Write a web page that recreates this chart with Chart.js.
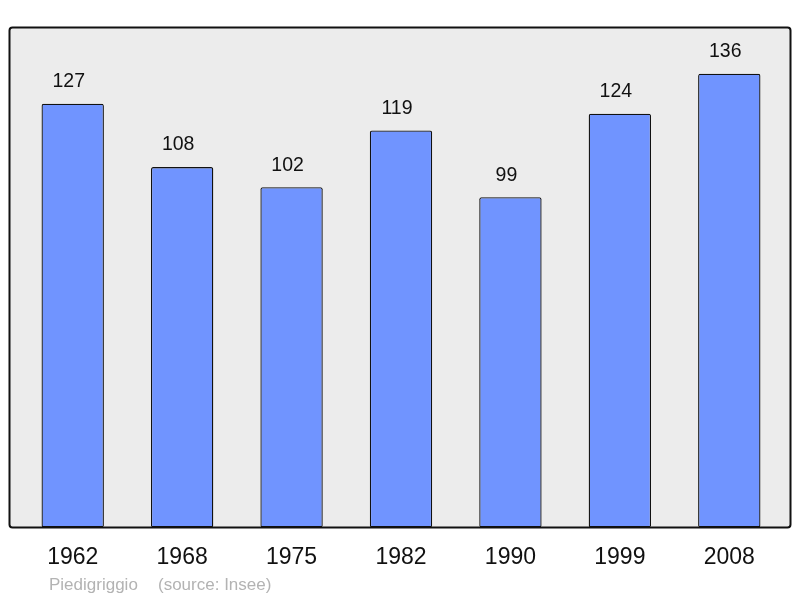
<!DOCTYPE html>
<html><head><meta charset="utf-8">
<script src="https://cdn.jsdelivr.net/npm/chart.js@4/dist/chart.umd.min.js"></script>
<style>html,body{margin:0;padding:0;background:#fff}#wrap{width:800px;height:598px}</style>
</head><body><div id="wrap"><canvas id="c" width="800" height="598"></canvas></div>
<script>
const years = ["1962","1968","1975","1982","1990","1999","2008"];
const population = [127,108,102,119,99,124,136];
const sourceLabel = "Piedigriggio";
const sourceNote = "(source: Insee)";

const frame = {
  id:'frame',
  beforeDatasetsDraw(chart){
    const ctx = chart.ctx, a = chart.chartArea;
    const x0 = 9.5, x1 = 790.5, y0 = a.top + 0.5, y1 = a.bottom;
    ctx.save();
    ctx.beginPath();
    ctx.roundRect(x0, y0, x1-x0, y1-y0, 3);
    ctx.fillStyle = '#ececec';
    ctx.fill();
    ctx.restore();
  },
  afterDatasetsDraw(chart){
    const ctx = chart.ctx, a = chart.chartArea;
    const x0 = 9.5, x1 = 790.5, y0 = a.top + 0.5, y1 = a.bottom;
    ctx.save();
    ctx.beginPath();
    ctx.roundRect(x0, y0, x1-x0, y1-y0, 3);
    ctx.lineWidth = 2;
    ctx.strokeStyle = '#111';
    ctx.stroke();
    // value labels
    const meta = chart.getDatasetMeta(0);
    ctx.fillStyle = '#111';
    ctx.font = '19.5px "Liberation Sans", Arial, sans-serif';
    ctx.textAlign = 'center';
    ctx.textBaseline = 'middle';
    meta.data.forEach((el,i)=>{
      ctx.fillText(String(population[i]), el.x - 4, el.y - 22);
    });
    // source
    ctx.fillStyle = '#b3b3b3';
    ctx.font = '17px "Liberation Sans", Arial, sans-serif';
    ctx.textAlign = 'left';
    ctx.fillText(sourceLabel, 49, 585);
    ctx.fillText(sourceNote, 158, 585);
    ctx.restore();
  }
};

new Chart(document.getElementById('c'), {
  type:'bar',
  data:{labels:years, datasets:[{data:population, backgroundColor:'#7094ff', borderColor:'#111', borderWidth:1.3, borderRadius:2, borderSkipped:false, barPercentage:0.57, categoryPercentage:1}]},
  options:{
    responsive:false, animation:false,
    layout:{padding:{left:18, right:16, top:27, bottom:11}},
    plugins:{legend:{display:false}, tooltip:{enabled:false}},
    scales:{
      y:{display:false, min:0, max:150},
      x:{grid:{display:false, drawTicks:false}, border:{display:false},
         ticks:{color:'#111', padding:16, font:{size:23, family:'"Liberation Sans", Arial, sans-serif'}}}
    }
  },
  plugins:[frame]
});
</script></body></html>
